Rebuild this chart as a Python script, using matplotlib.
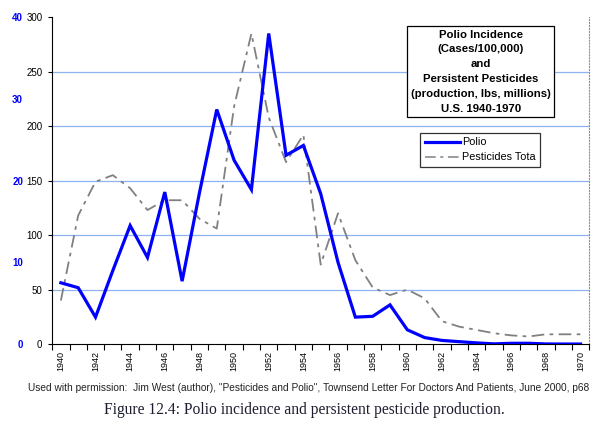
import matplotlib
matplotlib.use("Agg")
import matplotlib.pyplot as plt
from matplotlib.lines import Line2D

plt.rcParams["font.family"] = ["Liberation Sans", "DejaVu Sans"]

# ── data ──────────────────────────────────────────────────────
years = list(range(1940, 1971))
polio = [7.5, 6.9, 3.3, 9.0, 14.5, 10.6, 18.6, 7.7, 18.5, 28.7,
         22.5, 18.9, 38.0, 23.1, 24.3, 18.4, 10.0, 3.3, 3.4, 4.8,
         1.75, 0.8, 0.45, 0.3, 0.15, 0.03, 0.1, 0.1, 0.02, 0.01, 0.01]
pesticides = [40, 118, 149, 155, 143, 123, 132, 132, 115, 106,
              218, 285, 208, 167, 192, 73, 120, 77, 52, 45,
              50, 42, 21, 16, 13, 10, 8, 7, 9, 9, 9]
left_ticks = [0, 50, 100, 150, 200, 250, 300]
right_ticks = [0, 10, 20, 30, 40]
label_years = list(range(1940, 1971, 2))

# ── figure ───────────────────────────────────────────────────
fig = plt.figure(figsize=(6.0, 4.28), dpi=100)
ax = fig.add_axes([0.087, 0.196, 0.895, 0.764])
ax2 = ax.twinx()

ax.set_xlim(1939.5, 1970.5)
ax.set_ylim(0, 300)
ax2.set_ylim(0, 40)

# gridlines (no line at the top)
for v in left_ticks[1:-1]:
    ax.axhline(v, color="#8DB4F0", linewidth=0.9, zorder=0)

ax.plot(years, pesticides, color="#808080", linewidth=1.3,
        linestyle=(0, (7, 3, 2, 3)), zorder=2)
ax2.plot(years, polio, color="#0000FF", linewidth=2.3, zorder=3,
         solid_joinstyle="miter")

# spines
ax.spines["top"].set_visible(False)
ax.spines["right"].set_color("#909090")
ax.spines["right"].set_linestyle(":")
ax.spines["left"].set_color("black")
ax.spines["bottom"].set_color("black")
ax.spines["bottom"].set_zorder(5)
for s in ["top", "right", "bottom"]:
    ax2.spines[s].set_visible(False)

# left axis
ax.set_yticks(left_ticks)
ax.set_yticklabels([str(v) for v in left_ticks])
ax.tick_params(axis="y", labelsize=7, length=3, width=0.8, pad=4)

# x axis: ticks between categories, labels every other year
ax.set_xticks(label_years)
ax.set_xticklabels([str(y) for y in label_years], rotation=90, fontsize=6.5)
ax.set_xticks([y - 0.5 for y in years] + [1970.5], minor=True)
ax.tick_params(axis="x", which="major", length=0, pad=5)
ax.tick_params(axis="x", which="minor", length=4, width=0.8)

# secondary (blue) scale on the far left
ax2.yaxis.tick_left()
ax2.spines["left"].set_position(("outward", 18))
ax2.spines["left"].set_visible(False)
ax2.set_yticks(right_ticks)
ax2.set_yticklabels([str(v) for v in right_ticks], color="#0000FF",
                    fontweight="bold", fontsize=7)
ax2.tick_params(axis="y", length=0, pad=3)

# title box
title_lines = ["Polio Incidence", "(Cases/100,000)", "and",
               "Persistent Pesticides", "(production, lbs, millions)",
               "U.S. 1940-1970"]
ax2.text(0.798, 0.962, "\n".join(title_lines), transform=ax.transAxes,
         ha="center", va="top", fontsize=8.2, fontweight="bold",
         linespacing=1.6, zorder=6,
         bbox=dict(boxstyle="square,pad=0.3", facecolor="white",
                   edgecolor="black", linewidth=0.9))

# legend
handles = [Line2D([], [], color="#0000FF", linewidth=2.3),
           Line2D([], [], color="#808080", linewidth=1.1,
                  linestyle=(0, (7, 3, 2, 3)))]
leg = ax2.legend(handles, ["Polio", "Pesticides Tota"],
                 loc="upper left", bbox_to_anchor=(0.685, 0.647),
                 fontsize=7.8, frameon=True, fancybox=False,
                 handlelength=3.2, handletextpad=0.2, borderpad=0.45,
                 labelspacing=0.45, borderaxespad=0)
leg.get_frame().set_edgecolor("black")
leg.get_frame().set_linewidth(0.9)
leg.set_zorder(6)

# source and caption
fig.text(0.515, 0.093,
         "Used with permission:  Jim West (author), \"Pesticides and Polio\", "
         "Townsend Letter For Doctors And Patients, June 2000, p68",
         ha="center", va="center", fontsize=7.3, color="#222222")
fig.text(0.507, 0.042,
         "Figure 12.4: Polio incidence and persistent pesticide production.",
         ha="center", va="center", fontsize=11.2, color="#1c1c30",
         family=["Liberation Serif", "DejaVu Serif"])

fig.savefig("out.png", dpi=100)
